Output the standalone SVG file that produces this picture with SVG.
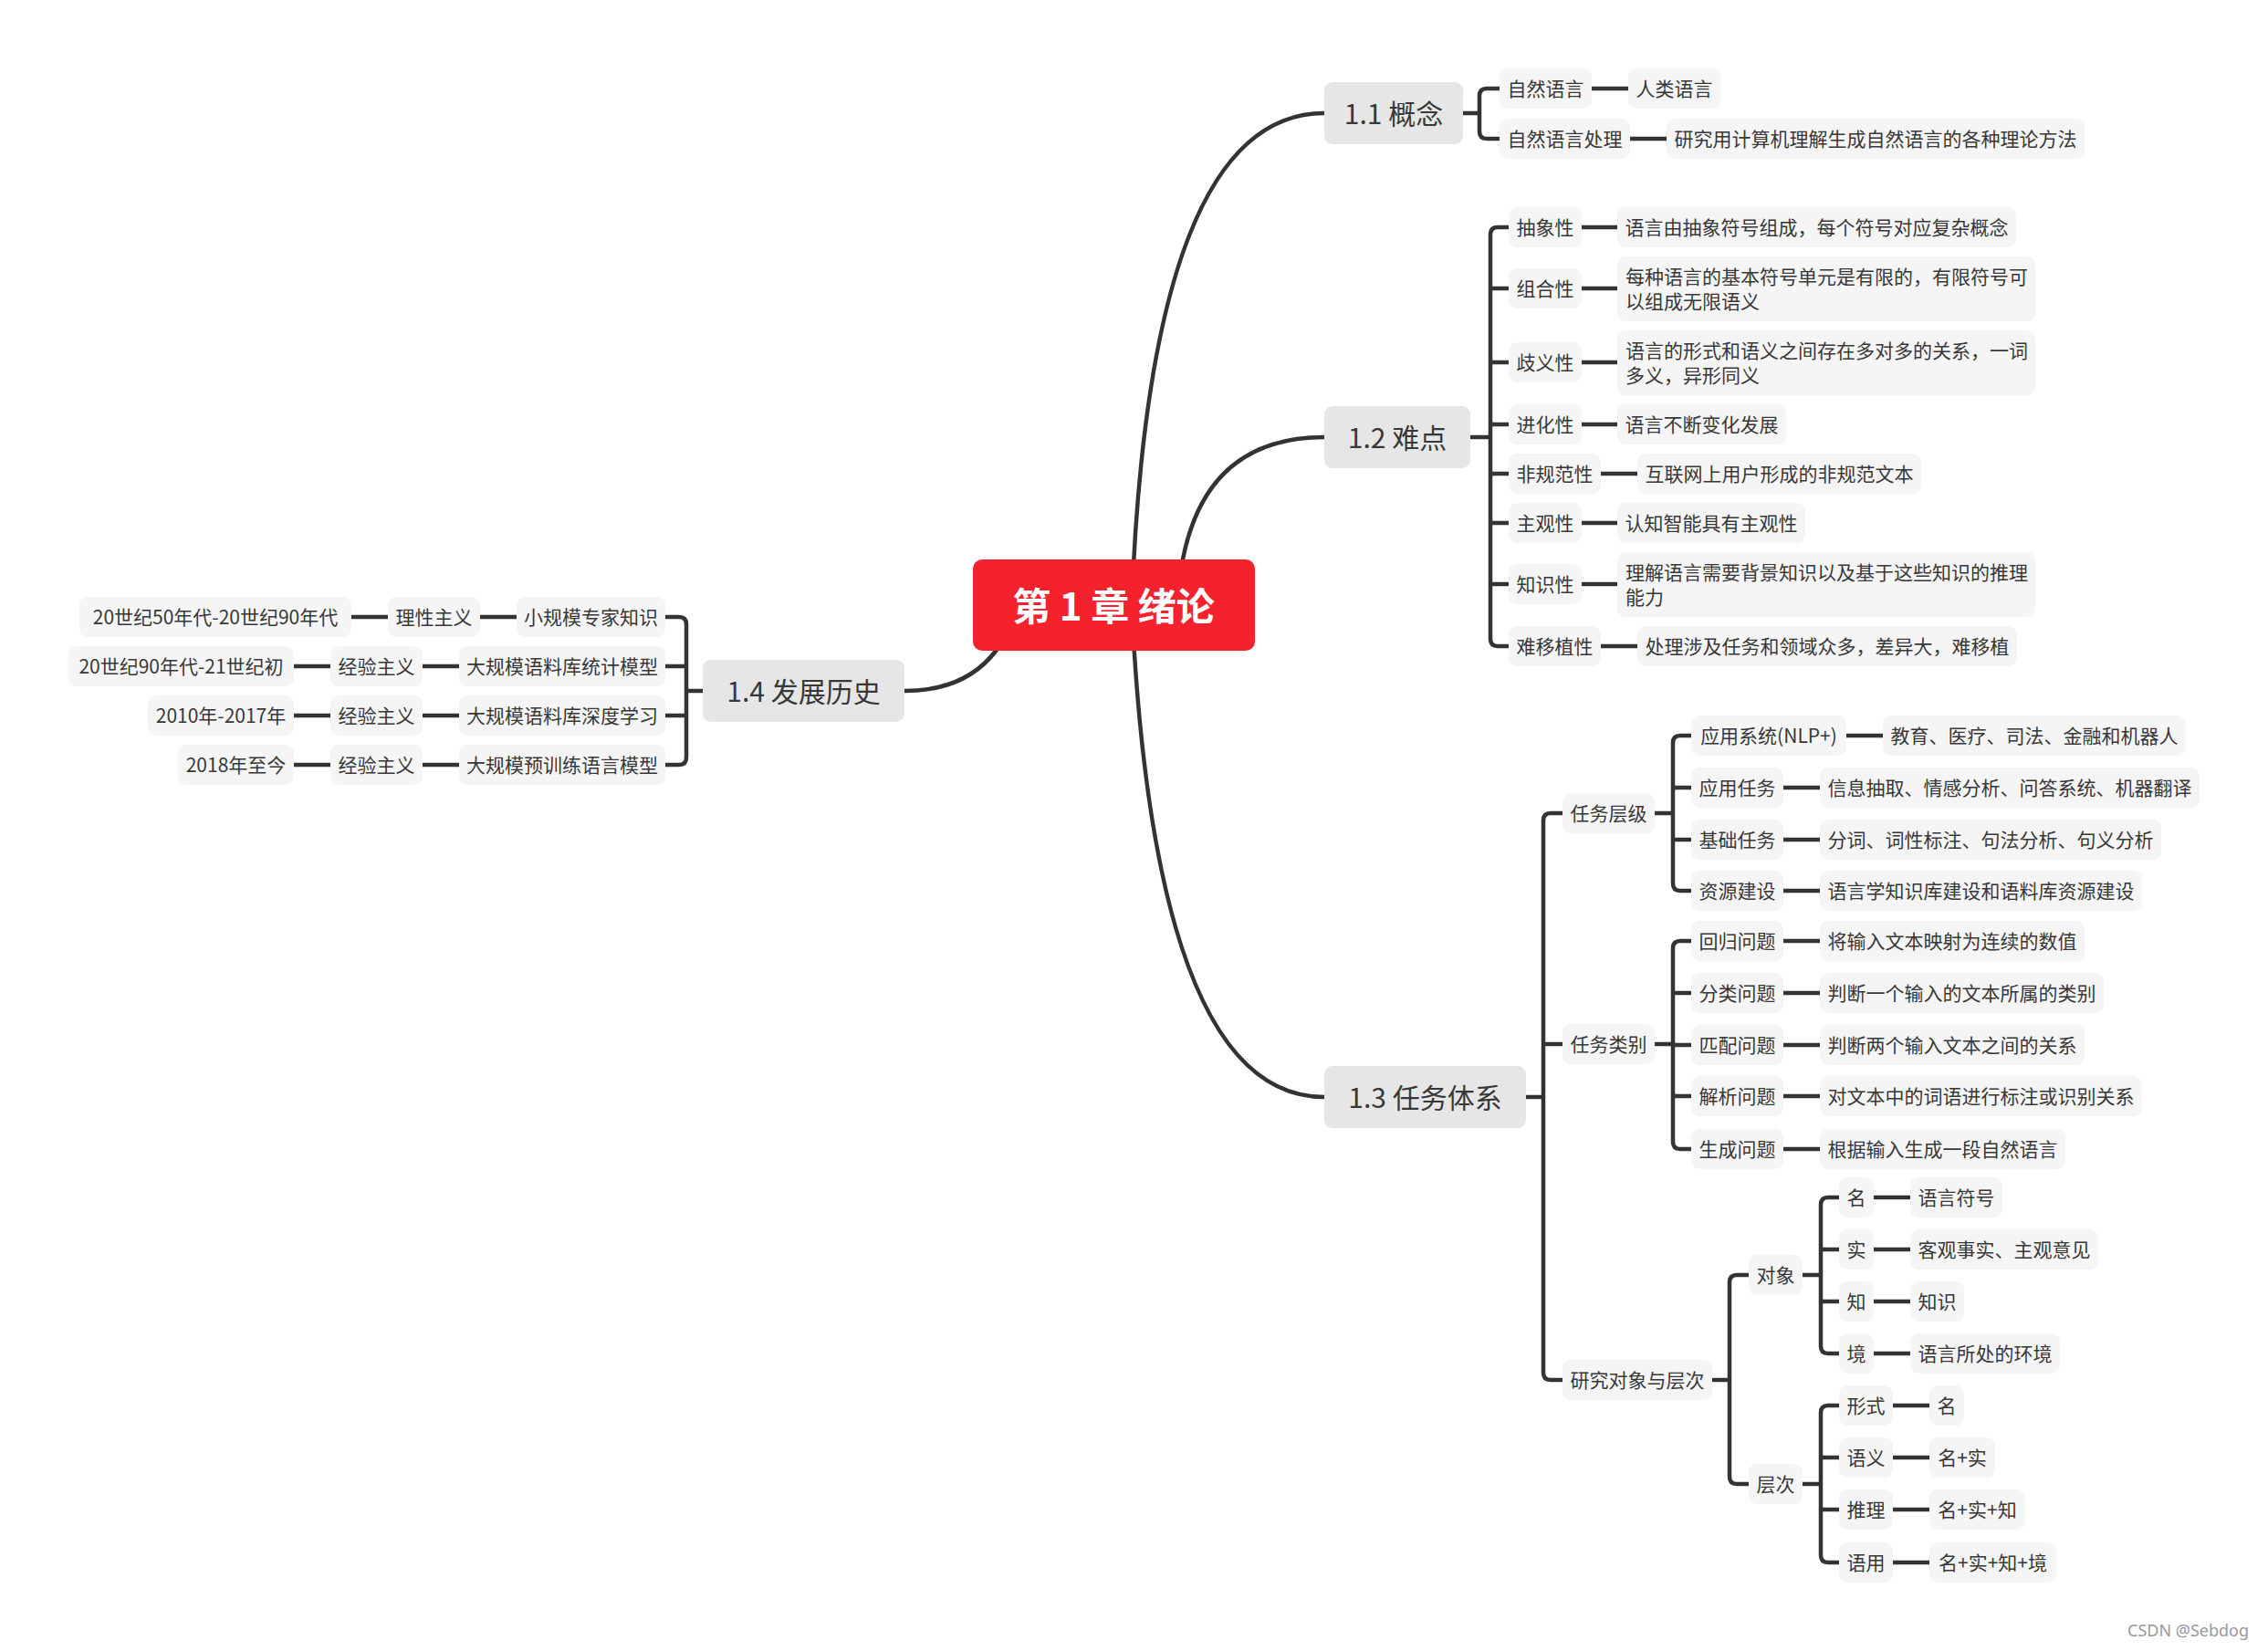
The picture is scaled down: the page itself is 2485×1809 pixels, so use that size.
<svg xmlns="http://www.w3.org/2000/svg" width="2485" height="1809" viewBox="0 0 2485 1809">
<style>
text{font-family:"Noto Sans CJK SC","Noto Sans",sans-serif;fill:#383838;dominant-baseline:central;text-anchor:middle;transform:translateY(-1.5px)}
.sub rect{fill:#F5F5F5}
.sub text{font-size:21px}
.main rect{fill:#E6E6E6}
.main text{font-size:30px}
.ml text{text-anchor:start}
#connectors path{fill:none;stroke:#333;stroke-width:4.5;stroke-linecap:butt}
#connectors .trunk{stroke-width:4.5}
#root rect{fill:#F5222D}
#root text{fill:#fff;font-size:42px;font-weight:700}
.wm{font-family:"Noto Sans",sans-serif;font-size:18px;fill:#999;text-anchor:start}
</style>
<rect width="2485" height="1809" fill="#fff"/>
<g id="connectors">
<path class="trunk" d="M1240,663 Q1260,124 1451,124"/>
<path class="trunk" d="M1290,663 Q1300,479 1451,479"/>
<path class="trunk" d="M1240,663 Q1265,1202 1451,1202"/>
<path class="trunk" d="M1120,640 Q1100,757 991,757"/>
<!-- 1.1 -->
<path d="M1603,124 H1621"/>
<path d="M1643,97 H1629 Q1621,97 1621,105 V144 Q1621,152 1629,152 H1643"/>
<path d="M1744,97 H1784"/>
<path d="M1786,152 H1826"/>
<!-- 1.2 -->
<path d="M1611,479 H1633"/>
<path d="M1653,249 H1641 Q1633,249 1633,257 V700 Q1633,708 1641,708 H1653"/>
<path d="M1633,316 H1653 M1633,397 H1653 M1633,465 H1653 M1633,519 H1653 M1633,573 H1653 M1633,640 H1653"/>
<path d="M1733,249 H1772 M1733,316 H1772 M1733,397 H1772 M1733,465 H1772 M1754,519 H1794 M1733,573 H1772 M1733,640 H1772 M1754,708 H1794"/>
<!-- 1.3 -->
<path d="M1672,1202 H1691"/>
<path d="M1712,891 H1699 Q1691,891 1691,899 V1504 Q1691,1512 1699,1512 H1712"/>
<path d="M1691,1144 H1712"/>
<path d="M1813,891 H1833"/>
<path d="M1853,806 H1841 Q1833,806 1833,814 V968 Q1833,976 1841,976 H1853"/>
<path d="M1833,863 H1853 M1833,920 H1853"/>
<path d="M2023,806 H2063 M1954,863 H1994 M1954,920 H1994 M1954,976 H1994"/>
<path d="M1813,1144 H1833"/>
<path d="M1853,1031 H1841 Q1833,1031 1833,1039 V1251 Q1833,1259 1841,1259 H1853"/>
<path d="M1833,1088 H1853 M1833,1145 H1853 M1833,1201 H1853"/>
<path d="M1954,1031 H1994 M1954,1088 H1994 M1954,1145 H1994 M1954,1201 H1994 M1954,1259 H1994"/>
<path d="M1876,1512 H1895"/>
<path d="M1916,1397 H1903 Q1895,1397 1895,1405 V1618 Q1895,1626 1903,1626 H1916"/>
<path d="M1975,1397 H1995"/>
<path d="M2015,1312 H2003 Q1995,1312 1995,1320 V1475 Q1995,1483 2003,1483 H2015"/>
<path d="M1995,1369 H2015 M1995,1426 H2015"/>
<path d="M2053,1312 H2093 M2053,1369 H2093 M2053,1426 H2093 M2053,1483 H2093"/>
<path d="M1975,1626 H1995"/>
<path d="M2015,1540 H2003 Q1995,1540 1995,1548 V1704 Q1995,1712 2003,1712 H2015"/>
<path d="M1995,1597 H2015 M1995,1654 H2015"/>
<path d="M2074,1540 H2114 M2074,1597 H2114 M2074,1654 H2114 M2074,1712 H2114"/>
<!-- 1.4 -->
<path d="M770,757 H752"/>
<path d="M729,676 H744 Q752,676 752,684 V830 Q752,838 744,838 H729"/>
<path d="M729,730 H752 M729,784 H752"/>
<path d="M385,676 H425 M526,676 H566"/>
<path d="M322,730 H362 M463,730 H503"/>
<path d="M322,784 H362 M463,784 H503"/>
<path d="M322,838 H362 M463,838 H503"/>
</g>

<g id="root"><rect x="1066" y="613" width="309" height="100" rx="10"/><text x="1220" y="663">第 1 章 绪论</text></g>

<g id="t11" class="main"><rect x="1451" y="90" width="152" height="68" rx="9"/><text x="1527" y="124">1.1 概念</text></g>
<g id="t12" class="main"><rect x="1451" y="445" width="160" height="68" rx="9"/><text x="1531" y="479">1.2 难点</text></g>
<g id="t13" class="main"><rect x="1451" y="1168" width="221" height="68" rx="9"/><text x="1561.5" y="1202">1.3 任务体系</text></g>
<g id="t14" class="main"><rect x="770" y="723" width="221" height="68" rx="9"/><text x="880.5" y="757">1.4 发展历史</text></g>

<!-- 1.1 children -->
<g id="n11a" class="sub"><rect x="1643" y="75" width="101" height="44" rx="9"/><text x="1693.5" y="97">自然语言</text></g>
<g id="n11a1" class="sub"><rect x="1784" y="75" width="101" height="44" rx="9"/><text x="1834.5" y="97">人类语言</text></g>
<g id="n11b" class="sub"><rect x="1643" y="130" width="143" height="44" rx="9"/><text x="1714.5" y="152">自然语言处理</text></g>
<g id="n11b1" class="sub"><rect x="1826" y="130" width="458" height="44" rx="9"/><text x="2055" y="152">研究用计算机理解生成自然语言的各种理论方法</text></g>

<!-- 1.2 children -->
<g id="n12a" class="sub"><rect x="1653" y="227" width="80" height="44" rx="9"/><text x="1693" y="249">抽象性</text></g>
<g id="n12a1" class="sub"><rect x="1772" y="227" width="437" height="44" rx="9"/><text x="1990.5" y="249">语言由抽象符号组成，每个符号对应复杂概念</text></g>
<g id="n12b" class="sub"><rect x="1653" y="294" width="80" height="44" rx="9"/><text x="1693" y="316">组合性</text></g>
<g id="n12b1" class="sub ml"><rect x="1772" y="281" width="458" height="71" rx="9"/><text x="1781" y="303">每种语言的基本符号单元是有限的，有限符号可</text><text x="1781" y="330">以组成无限语义</text></g>
<g id="n12c" class="sub"><rect x="1653" y="375" width="80" height="44" rx="9"/><text x="1693" y="397">歧义性</text></g>
<g id="n12c1" class="sub ml"><rect x="1772" y="362" width="458" height="71" rx="9"/><text x="1781" y="384">语言的形式和语义之间存在多对多的关系，一词</text><text x="1781" y="411">多义，异形同义</text></g>
<g id="n12d" class="sub"><rect x="1653" y="443" width="80" height="44" rx="9"/><text x="1693" y="465">进化性</text></g>
<g id="n12d1" class="sub"><rect x="1772" y="443" width="185" height="44" rx="9"/><text x="1864.5" y="465">语言不断变化发展</text></g>
<g id="n12e" class="sub"><rect x="1653" y="497" width="101" height="44" rx="9"/><text x="1703.5" y="519">非规范性</text></g>
<g id="n12e1" class="sub"><rect x="1794" y="497" width="311" height="44" rx="9"/><text x="1949.5" y="519">互联网上用户形成的非规范文本</text></g>
<g id="n12f" class="sub"><rect x="1653" y="551" width="80" height="44" rx="9"/><text x="1693" y="573">主观性</text></g>
<g id="n12f1" class="sub"><rect x="1772" y="551" width="206" height="44" rx="9"/><text x="1875" y="573">认知智能具有主观性</text></g>
<g id="n12g" class="sub"><rect x="1653" y="618" width="80" height="44" rx="9"/><text x="1693" y="640">知识性</text></g>
<g id="n12g1" class="sub ml"><rect x="1772" y="605" width="458" height="71" rx="9"/><text x="1781" y="627">理解语言需要背景知识以及基于这些知识的推理</text><text x="1781" y="654">能力</text></g>
<g id="n12h" class="sub"><rect x="1653" y="686" width="101" height="44" rx="9"/><text x="1703.5" y="708">难移植性</text></g>
<g id="n12h1" class="sub"><rect x="1794" y="686" width="416" height="44" rx="9"/><text x="2002" y="708">处理涉及任务和领域众多，差异大，难移植</text></g>

<!-- 1.3 children -->
<g id="n13a" class="sub"><rect x="1712" y="869" width="101" height="44" rx="9"/><text x="1762.5" y="891">任务层级</text></g>
<g id="n13b" class="sub"><rect x="1712" y="1122" width="101" height="44" rx="9"/><text x="1762.5" y="1144">任务类别</text></g>
<g id="n13c" class="sub"><rect x="1712" y="1490" width="164" height="44" rx="9"/><text x="1794" y="1512">研究对象与层次</text></g>

<g id="n13a1" class="sub"><rect x="1853" y="784" width="170" height="44" rx="9"/><text x="1938" y="806">应用系统(NLP+)</text></g>
<g id="n13a1d" class="sub"><rect x="2063" y="784" width="332" height="44" rx="9"/><text x="2229" y="806">教育、医疗、司法、金融和机器人</text></g>
<g id="n13a2" class="sub"><rect x="1853" y="841" width="101" height="44" rx="9"/><text x="1903.5" y="863">应用任务</text></g>
<g id="n13a2d" class="sub"><rect x="1994" y="841" width="416" height="44" rx="9"/><text x="2202" y="863">信息抽取、情感分析、问答系统、机器翻译</text></g>
<g id="n13a3" class="sub"><rect x="1853" y="898" width="101" height="44" rx="9"/><text x="1903.5" y="920">基础任务</text></g>
<g id="n13a3d" class="sub"><rect x="1994" y="898" width="374" height="44" rx="9"/><text x="2181" y="920">分词、词性标注、句法分析、句义分析</text></g>
<g id="n13a4" class="sub"><rect x="1853" y="954" width="101" height="44" rx="9"/><text x="1903.5" y="976">资源建设</text></g>
<g id="n13a4d" class="sub"><rect x="1994" y="954" width="353" height="44" rx="9"/><text x="2170.5" y="976">语言学知识库建设和语料库资源建设</text></g>

<g id="n13b1" class="sub"><rect x="1853" y="1009" width="101" height="44" rx="9"/><text x="1903.5" y="1031">回归问题</text></g>
<g id="n13b1d" class="sub"><rect x="1994" y="1009" width="290" height="44" rx="9"/><text x="2139" y="1031">将输入文本映射为连续的数值</text></g>
<g id="n13b2" class="sub"><rect x="1853" y="1066" width="101" height="44" rx="9"/><text x="1903.5" y="1088">分类问题</text></g>
<g id="n13b2d" class="sub"><rect x="1994" y="1066" width="311" height="44" rx="9"/><text x="2149.5" y="1088">判断一个输入的文本所属的类别</text></g>
<g id="n13b3" class="sub"><rect x="1853" y="1123" width="101" height="44" rx="9"/><text x="1903.5" y="1145">匹配问题</text></g>
<g id="n13b3d" class="sub"><rect x="1994" y="1123" width="290" height="44" rx="9"/><text x="2139" y="1145">判断两个输入文本之间的关系</text></g>
<g id="n13b4" class="sub"><rect x="1853" y="1179" width="101" height="44" rx="9"/><text x="1903.5" y="1201">解析问题</text></g>
<g id="n13b4d" class="sub"><rect x="1994" y="1179" width="353" height="44" rx="9"/><text x="2170.5" y="1201">对文本中的词语进行标注或识别关系</text></g>
<g id="n13b5" class="sub"><rect x="1853" y="1237" width="101" height="44" rx="9"/><text x="1903.5" y="1259">生成问题</text></g>
<g id="n13b5d" class="sub"><rect x="1994" y="1237" width="269" height="44" rx="9"/><text x="2128.5" y="1259">根据输入生成一段自然语言</text></g>

<g id="n13c1" class="sub"><rect x="1916" y="1375" width="59" height="44" rx="9"/><text x="1945.5" y="1397">对象</text></g>
<g id="n13c2" class="sub"><rect x="1916" y="1604" width="59" height="44" rx="9"/><text x="1945.5" y="1626">层次</text></g>

<g id="o1" class="sub"><rect x="2015" y="1290" width="38" height="44" rx="9"/><text x="2034" y="1312">名</text></g>
<g id="o1d" class="sub"><rect x="2093" y="1290" width="101" height="44" rx="9"/><text x="2143.5" y="1312">语言符号</text></g>
<g id="o2" class="sub"><rect x="2015" y="1347" width="38" height="44" rx="9"/><text x="2034" y="1369">实</text></g>
<g id="o2d" class="sub"><rect x="2093" y="1347" width="206" height="44" rx="9"/><text x="2196" y="1369">客观事实、主观意见</text></g>
<g id="o3" class="sub"><rect x="2015" y="1404" width="38" height="44" rx="9"/><text x="2034" y="1426">知</text></g>
<g id="o3d" class="sub"><rect x="2093" y="1404" width="59" height="44" rx="9"/><text x="2122.5" y="1426">知识</text></g>
<g id="o4" class="sub"><rect x="2015" y="1461" width="38" height="44" rx="9"/><text x="2034" y="1483">境</text></g>
<g id="o4d" class="sub"><rect x="2093" y="1461" width="164" height="44" rx="9"/><text x="2175" y="1483">语言所处的环境</text></g>

<g id="l1" class="sub"><rect x="2015" y="1518" width="59" height="44" rx="9"/><text x="2044.5" y="1540">形式</text></g>
<g id="l1d" class="sub"><rect x="2114" y="1518" width="38" height="44" rx="9"/><text x="2133" y="1540">名</text></g>
<g id="l2" class="sub"><rect x="2015" y="1575" width="59" height="44" rx="9"/><text x="2044.5" y="1597">语义</text></g>
<g id="l2d" class="sub"><rect x="2114" y="1575" width="72" height="44" rx="9"/><text x="2150" y="1597">名+实</text></g>
<g id="l3" class="sub"><rect x="2015" y="1632" width="59" height="44" rx="9"/><text x="2044.5" y="1654">推理</text></g>
<g id="l3d" class="sub"><rect x="2114" y="1632" width="105" height="44" rx="9"/><text x="2166.5" y="1654">名+实+知</text></g>
<g id="l4" class="sub"><rect x="2015" y="1690" width="59" height="44" rx="9"/><text x="2044.5" y="1712">语用</text></g>
<g id="l4d" class="sub"><rect x="2114" y="1690" width="139" height="44" rx="9"/><text x="2183.5" y="1712">名+实+知+境</text></g>

<!-- 1.4 children -->
<g id="h1c" class="sub"><rect x="566" y="654" width="163" height="44" rx="9"/><text x="647.5" y="676">小规模专家知识</text></g>
<g id="h1b" class="sub"><rect x="425" y="654" width="101" height="44" rx="9"/><text x="475.5" y="676">理性主义</text></g>
<g id="h1a" class="sub"><rect x="87" y="654" width="298" height="44" rx="9"/><text x="236" y="676">20世纪50年代-20世纪90年代</text></g>
<g id="h2c" class="sub"><rect x="503" y="708" width="226" height="44" rx="9"/><text x="616" y="730">大规模语料库统计模型</text></g>
<g id="h2b" class="sub"><rect x="362" y="708" width="101" height="44" rx="9"/><text x="412.5" y="730">经验主义</text></g>
<g id="h2a" class="sub"><rect x="75" y="708" width="247" height="44" rx="9"/><text x="198.5" y="730">20世纪90年代-21世纪初</text></g>
<g id="h3c" class="sub"><rect x="503" y="762" width="226" height="44" rx="9"/><text x="616" y="784">大规模语料库深度学习</text></g>
<g id="h3b" class="sub"><rect x="362" y="762" width="101" height="44" rx="9"/><text x="412.5" y="784">经验主义</text></g>
<g id="h3a" class="sub"><rect x="162" y="762" width="160" height="44" rx="9"/><text x="242" y="784">2010年-2017年</text></g>
<g id="h4c" class="sub"><rect x="503" y="816" width="226" height="44" rx="9"/><text x="616" y="838">大规模预训练语言模型</text></g>
<g id="h4b" class="sub"><rect x="362" y="816" width="101" height="44" rx="9"/><text x="412.5" y="838">经验主义</text></g>
<g id="h4a" class="sub"><rect x="195" y="816" width="127" height="44" rx="9"/><text x="258.5" y="838">2018年至今</text></g>

<text class="wm" x="2331" y="1787">CSDN @Sebdog</text>
</svg>
